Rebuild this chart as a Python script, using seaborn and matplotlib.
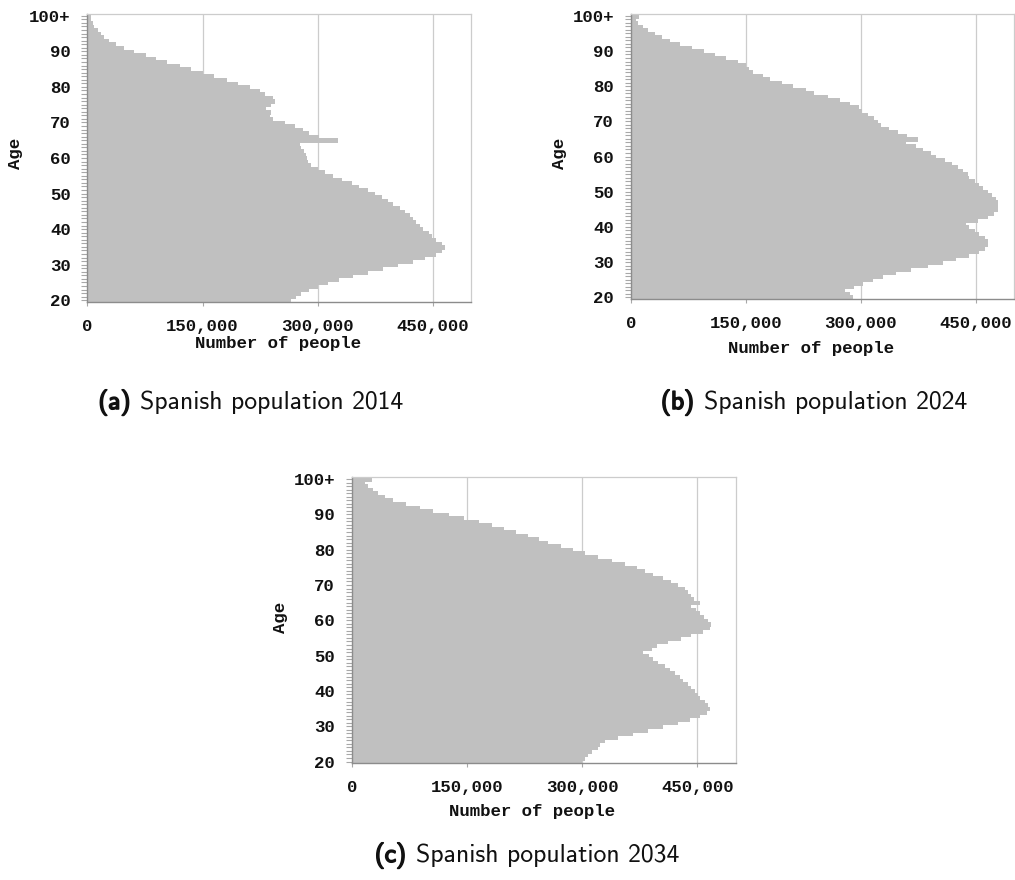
import matplotlib
matplotlib.use("Agg")
import matplotlib.pyplot as plt
import matplotlib.patheffects as pe
from matplotlib.offsetbox import TextArea, HPacker, AnnotationBbox
from matplotlib.ticker import FuncFormatter, FixedLocator
import pandas as pd
import seaborn as sns

# Age groups, youngest to oldest (the last one is open-ended)
age_labels = [str(a) for a in range(20, 100)] + ["100+"]

# Number of people by single year of age, ages 20 .. 100+
pop_2014 = [
    264000, 271000, 277000, 288000, 299000, 312000, 327000, 345000, 364000, 384000,
    403000, 423000, 438000, 453000, 460000, 464000, 460000, 453000, 447000, 443000,
    436000, 432000, 427000, 423000, 419000, 412000, 406000, 397000, 390000, 382000,
    373000, 364000, 353000, 343000, 330000, 319000, 308000, 299000, 290000, 286000,
    285000, 283000, 281000, 277000, 275000, 325000, 301000, 288000, 280000, 269000,
    256000, 240000, 236000, 238000, 232000, 238000, 243000, 240000, 230000, 223000,
    210000, 195000, 180000, 164000, 149000, 134000, 119000, 103000, 88000, 75000,
    60000, 47000, 36000, 27000, 21000, 16500, 12000, 8000, 6000, 4000,
    3500,
]

pop_2024 = [
    288000, 284000, 278000, 290000, 301000, 314000, 327000, 345000, 364000, 386000,
    406000, 423000, 440000, 453000, 461000, 465000, 464000, 460000, 453000, 447000,
    440000, 436000, 451000, 464000, 472000, 477000, 478000, 477000, 475000, 469000,
    464000, 458000, 453000, 447000, 440000, 438000, 432000, 425000, 417000, 408000,
    397000, 390000, 380000, 370000, 358000, 373000, 359000, 347000, 336000, 325000,
    321000, 316000, 308000, 300000, 296000, 285000, 271000, 256000, 238000, 227000,
    210000, 196000, 180000, 171000, 158000, 153000, 149000, 138000, 123000, 109000,
    94000, 78000, 63000, 50000, 39000, 30000, 21000, 15000, 8000, 5000,
    10000,
]

pop_2034 = [
    298000, 302000, 307000, 311000, 320000, 322000, 328000, 346000, 365000, 385000,
    404000, 424000, 439000, 452000, 461000, 465000, 463000, 459000, 452000, 449000,
    446000, 441000, 437000, 430000, 426000, 420000, 413000, 406000, 398000, 391000,
    386000, 378000, 390000, 396000, 411000, 428000, 441000, 456000, 465000, 466000,
    463000, 457000, 452000, 447000, 441000, 452000, 445000, 441000, 437000, 433000,
    424000, 414000, 404000, 391000, 380000, 370000, 355000, 338000, 320000, 302000,
    287000, 271000, 254000, 242000, 228000, 213000, 197000, 181000, 164000, 145000,
    125000, 104000, 88000, 69000, 53000, 42000, 33000, 26000, 20000, 16000,
    25000,
]

x_ticks = [0, 150000, 300000, 450000]
y_tick_labels = ["100+", "90", "80", "70", "60", "50", "40", "30", "20"]
captions = [
    ("(a)", "Spanish population 2014"),
    ("(b)", "Spanish population 2024"),
    ("(c)", "Spanish population 2034"),
]

sns.set_style("white")
plt.rcParams["font.family"] = ["DejaVu Sans"]

W, H = 1015, 880
fig = plt.figure(figsize=(W / 100, H / 100), dpi=100)

BAR = "#c0c0c0"
LIGHT = "#cccccc"
DARK = "#8c8c8c"
mono = dict(family="Liberation Mono", weight="bold", size=12.5)


def add_axes_px(left, top, right, bottom):
    return fig.add_axes([left / W, 1 - bottom / H, (right - left) / W, (bottom - top) / H])


def draw_pyramid(ax, values, xlab_pos, ylab_pos):
    df = pd.DataFrame({"age": age_labels, "people": values})
    order = age_labels[::-1]  # oldest group at the top
    sns.barplot(data=df, x="people", y="age", order=order, orient="h",
                color=BAR, saturation=1, width=1.0, edgecolor=BAR,
                linewidth=0.7, ax=ax, zorder=2)
    # solid, seamless stack of bars
    for bar in ax.patches:
        bar.set_antialiased(False)
    ax.set_xlim(0, 500000)
    ax.set_ylim(len(order) - 0.5, -0.5)

    ax.set_axisbelow(True)
    ax.xaxis.set_major_locator(FixedLocator(x_ticks))
    ax.xaxis.set_major_formatter(FuncFormatter(lambda v, p: f"{int(v):,}"))
    ax.grid(axis="x", color=LIGHT, linewidth=0.9)
    ax.grid(axis="y", visible=False)

    major_pos = [order.index(lbl) for lbl in y_tick_labels]
    ax.set_yticks(major_pos, y_tick_labels)
    ax.set_yticks(range(len(order)), minor=True)

    for lbl in ax.get_xticklabels() + ax.get_yticklabels():
        lbl.set_fontfamily(mono["family"])
        lbl.set_fontweight(mono["weight"])
        lbl.set_fontsize(mono["size"])
        lbl.set_color("#111111")

    ax.tick_params(axis="y", which="both", left=True, length=4, width=0.8,
                   color="#a8a8a8", pad=8)
    ax.tick_params(axis="x", which="major", bottom=True, length=3, width=0.8,
                   color="#a8a8a8", pad=9)

    for side in ("top", "right"):
        ax.spines[side].set_visible(True)
        ax.spines[side].set_color(LIGHT)
        ax.spines[side].set_linewidth(0.9)
    for side in ("left", "bottom"):
        ax.spines[side].set_visible(True)
        ax.spines[side].set_color(DARK)
        ax.spines[side].set_linewidth(1.0)

    ax.set_xlabel("Number of people", fontfamily=mono["family"],
                  fontweight="bold", fontsize=mono["size"], color="#111111")
    ax.set_ylabel("Age", fontfamily=mono["family"],
                  fontweight="bold", fontsize=mono["size"], color="#111111")
    ax.xaxis.set_label_coords(*xlab_pos)
    ax.yaxis.set_label_coords(*ylab_pos)
    ax.xaxis.label.set_va("center")
    ax.yaxis.label.set_va("center")


def add_caption(cx, cy, tag, body):
    base = dict(fontfamily="cmss10", fontsize=18.5, color="#111111")
    bold = dict(base, path_effects=[pe.withStroke(linewidth=1.1, foreground="#111111")])
    box = HPacker(children=[TextArea(tag, textprops=bold), TextArea(body, textprops=base)],
                  align="baseline", pad=0, sep=7)
    ab = AnnotationBbox(box, (cx / W, 1 - cy / H), xycoords="figure fraction",
                        frameon=False, box_alignment=(0.5, 0.5))
    fig.add_artist(ab)


ax_a = add_axes_px(87.3, 14, 471.3, 302)
draw_pyramid(ax_a, pop_2014, (0.497, -0.143), (-0.186, 0.517))

ax_b = add_axes_px(630.7, 14, 1014.3, 299)
draw_pyramid(ax_b, pop_2024, (0.47, -0.172), (-0.186, 0.512))

ax_c = add_axes_px(351.7, 477.3, 735.7, 763.3)
draw_pyramid(ax_c, pop_2034, (0.469, -0.169), (-0.185, 0.51))

add_caption(251, 402, *captions[0])
add_caption(814, 402, *captions[1])
add_caption(527, 855, *captions[2])

fig.savefig("out.png", dpi=100, facecolor="white")
